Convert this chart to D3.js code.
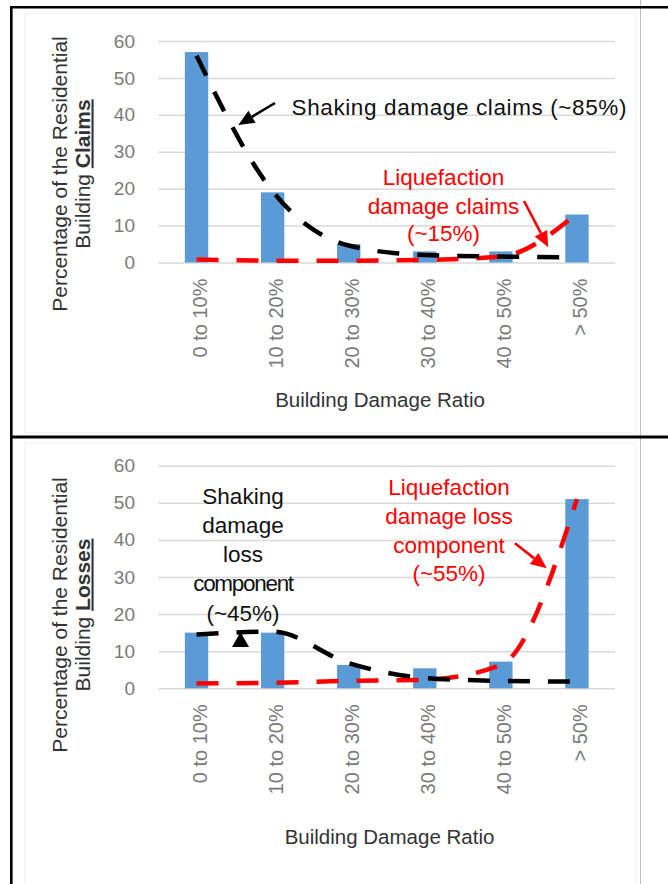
<!DOCTYPE html>
<html>
<head>
<meta charset="utf-8">
<script src="https://cdn.jsdelivr.net/npm/d3@7"></script>
<style>
  html, body { margin: 0; padding: 0; background: #fff; }
  svg { display: block; font-family: "Liberation Sans", Arial, sans-serif; }
</style>
</head>
<body>
<svg id="chart" width="668" height="884"></svg>
<script>
// ---------------- data ----------------
const categories = ["0 to 10%", "10 to 20%", "20 to 30%", "30 to 40%", "40 to 50%", "> 50%"];
const yTicks = [0, 10, 20, 30, 40, 50, 60];

const claimsBars = [57, 19, 5, 3, 3, 13];
const claimsShaking = [56, 19.3, 4.6, 2.0, 1.6, 1.4];
const claimsLiquefaction = [0.8, 0.5, 0.5, 0.7, 1.6, 13.3];

const lossesBars = [15, 15, 6.3, 5.4, 7.2, 51];
const lossesShaking = [14.5, 15.3, 6.8, 2.8, 2.0, 1.8];
const lossesLiquefaction = [1.3, 1.5, 2.0, 2.3, 6.3, 51];

const xTitle = "Building Damage Ratio";
const yTitleLine1 = "Percentage of the Residential";

// ---------------- drawing ----------------
const svg = d3.select("#chart");
const BLUE = "#5b9bd5", RED = "#ff0000";

// panel frames
svg.append("rect").attr("x", 25).attr("y", 13).attr("width", 611).attr("height", 420)
  .attr("fill", "none").attr("stroke", "#efefef").attr("stroke-width", 1);
svg.append("rect").attr("x", 25).attr("y", 443).attr("width", 611).attr("height", 460)
  .attr("fill", "none").attr("stroke", "#efefef").attr("stroke-width", 1);
svg.append("line").attr("x1", 640.5).attr("x2", 640.5).attr("y1", 0).attr("y2", 884)
  .attr("stroke", "#bdbdbd").attr("stroke-width", 1);
svg.append("line").attr("x1", 10).attr("x2", 668).attr("y1", 7.3).attr("y2", 7.3)
  .attr("stroke", "#000").attr("stroke-width", 2.6);
svg.append("line").attr("x1", 10).attr("x2", 668).attr("y1", 437).attr("y2", 437)
  .attr("stroke", "#000").attr("stroke-width", 3);
svg.append("line").attr("x1", 11.3).attr("x2", 11.3).attr("y1", 6).attr("y2", 884)
  .attr("stroke", "#000").attr("stroke-width", 2.6);

function arrow(g, x1, y1, x2, y2, color) {
  const ang = Math.atan2(y2 - y1, x2 - x1);
  const L = 16, W = 7;
  const bx = x2 - L * Math.cos(ang), by = y2 - L * Math.sin(ang);
  g.append("line").attr("x1", x1).attr("y1", y1).attr("x2", bx).attr("y2", by)
    .attr("stroke", color).attr("stroke-width", 2.6);
  const px = -Math.sin(ang) * W, py = Math.cos(ang) * W;
  g.append("path")
    .attr("d", `M${x2},${y2}L${bx + px},${by + py}L${bx - px},${by - py}Z`)
    .attr("fill", color);
}

function panel(opts) {
  const g = svg.append("g");
  const x = d3.scaleBand().domain(categories).range([158.5, 615]).padding(0);
  const y = d3.scaleLinear().domain([0, 60]).range([opts.y0, opts.y60]);
  const plotW = 615 - 158.5;

  // gridlines + tick labels
  const yAxis = g.append("g").attr("transform", "translate(158.5,0)")
    .call(d3.axisLeft(y).tickValues(yTicks).tickSize(-plotW).tickPadding(23.5).tickFormat(d3.format("d")));
  yAxis.select(".domain").remove();
  yAxis.selectAll(".tick line").attr("stroke", "#d9d9d9").attr("stroke-width", 1.5);
  yAxis.selectAll(".tick text").attr("fill", "#7a7a7a").style("font-size", "19px")
    .style("font-family", "'Liberation Sans', Arial, sans-serif");

  // category labels
  const xAxis = g.append("g").attr("transform", `translate(0,${opts.y0})`)
    .call(d3.axisBottom(x).tickSize(0));
  xAxis.select(".domain").remove();
  xAxis.selectAll(".tick text")
    .attr("transform", "rotate(-90)").attr("x", -16).attr("y", 10).attr("dy", 0)
    .style("text-anchor", "end").attr("fill", "#7a7a7a").style("font-size", "20px")
    .style("font-family", "'Liberation Sans', Arial, sans-serif");

  // bars
  const barW = x.step() * 0.307;
  g.selectAll("rect.bar").data(opts.bars).enter().append("rect")
    .attr("class", "bar")
    .attr("x", (d, i) => x(categories[i]) + (x.bandwidth() - barW) / 2)
    .attr("y", d => y(d)).attr("width", barW).attr("height", d => y(0) - y(d))
    .attr("fill", BLUE);

  // dashed lines
  const line = d3.line()
    .x((d, i) => x(categories[i]) + x.bandwidth() / 2)
    .y(d => y(d)).curve(d3.curveMonotoneX);
  g.append("path").attr("d", line(opts.liq)).attr("fill", "none")
    .attr("stroke", RED).attr("stroke-width", 4.5).attr("stroke-dasharray", "22,18");
  g.append("path").attr("d", line(opts.shake)).attr("fill", "none")
    .attr("stroke", "#000").attr("stroke-width", 4.5).attr("stroke-dasharray", "22,18");

  // axis titles
  g.append("text").attr("x", opts.xTitleX).attr("y", opts.xTitleY)
    .attr("text-anchor", "middle").attr("fill", "#333").style("font-size", "20.5px")
    .text(xTitle);
  const yt = g.append("g").attr("transform", `translate(0,${opts.yTitleCY}) rotate(-90)`);
  yt.append("text").attr("x", 0).attr("y", 67).attr("text-anchor", "middle")
    .attr("fill", "#333").style("font-size", "21px").text(yTitleLine1);
  const t2 = yt.append("text").attr("x", 0).attr("y", 89.5).attr("text-anchor", "middle")
    .attr("fill", "#333").style("font-size", "21px");
  t2.append("tspan").text("Building ");
  t2.append("tspan").style("font-weight", "bold").style("text-decoration", "underline").text(opts.yWord);
  return g;
}

// ---- top panel: claims ----
const topPanel = panel({
  y0: 262.5, y60: 41, bars: claimsBars, shake: claimsShaking, liq: claimsLiquefaction,
  xTitleX: 380, xTitleY: 407, yTitleCY: 174, yWord: "Claims"
});
topPanel.append("text").attr("x", 291.5).attr("y", 114.5).attr("fill", "#111")
  .style("font-size", "22.5px").attr("textLength", 335).text("Shaking damage claims (~85%)");
arrow(topPanel, 275, 103, 238.3, 125, "#000");
[["Liquefaction", 185], ["damage claims", 213.5], ["(~15%)", 241]].forEach(([t, yy]) => {
  topPanel.append("text").attr("x", 443.5).attr("y", yy).attr("text-anchor", "middle")
    .attr("fill", RED).style("font-size", "22.5px").text(t);
});
arrow(topPanel, 524, 201, 548.3, 247.3, RED);

// ---- bottom panel: losses ----
const botPanel = panel({
  y0: 688.3, y60: 465.7, bars: lossesBars, shake: lossesShaking, liq: lossesLiquefaction,
  xTitleX: 389.5, xTitleY: 843.5, yTitleCY: 615, yWord: "Losses"
});
[["Shaking", 504], ["damage", 533], ["loss", 562], ["component", 591], ["(~45%)", 620.5]].forEach(([t, yy]) => {
  const tx = botPanel.append("text").attr("x", 243).attr("y", yy).attr("text-anchor", "middle")
    .attr("fill", "#111").style("font-size", "22.5px").text(t);
  if (t === "component") tx.style("letter-spacing", "-1.3px");
});
botPanel.append("path").attr("d", "M240.5,632L249,647L232,647Z").attr("fill", "#000");
[["Liquefaction", 495], ["damage loss", 524], ["component", 552.5], ["(~55%)", 581]].forEach(([t, yy]) => {
  botPanel.append("text").attr("x", 449).attr("y", yy).attr("text-anchor", "middle")
    .attr("fill", RED).style("font-size", "22.5px").text(t);
});
arrow(botPanel, 515, 543.3, 546.7, 568.3, RED);
</script>
</body>
</html>
